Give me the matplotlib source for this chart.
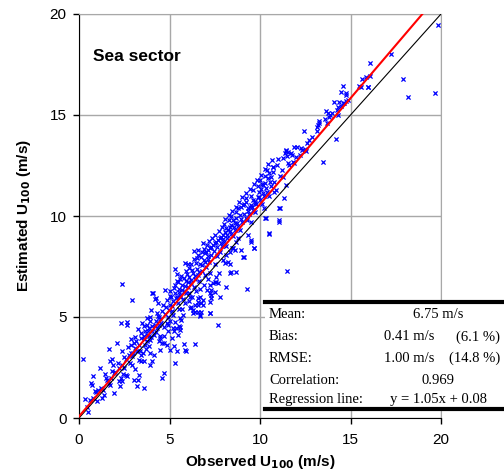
import matplotlib.pyplot as plt
from matplotlib.patches import Rectangle

# observed / estimated U100 (m/s), grouped by speed range
pts_0_2 = [(0.24, 2.94), (0.33, 0.94), (0.45, 0.55), (0.6, 0.9), (0.66, 1.72), (0.73, 1.65), (0.8, 1.0),
           (0.88, 1.35), (0.95, 1.29), (1.03, 1.4), (0.79, 2.09), (1.17, 2.48), (1.28, 0.99), (1.38, 1.15),
           (1.43, 2.18), (1.47, 1.98), (1.2, 1.5), (1.3, 1.4), (1.65, 1.73), (1.69, 1.65), (1.71, 2.84),
           (1.84, 2.31), (1.93, 2.23), (1.65, 3.4), (1.93, 1.24), (1.55, 1.9), (1.75, 2.0), (1.9, 2.6),
           (1.0, 0.85), (0.5, 0.3)]

pts_2_5 = [(2.11, 3.71), (2.3, 4.69), (2.2, 1.85), (2.24, 1.57), (2.39, 1.82), (2.57, 2.14), (2.66, 2.06),
           (2.75, 3.13), (2.85, 3.22), (2.94, 3.05), (2.48, 2.48), (2.39, 2.64), (2.66, 4.74), (2.66, 4.62),
           (3.03, 3.71), (3.12, 3.47), (3.21, 3.3), (3.31, 2.14), (3.21, 1.57), (3.03, 1.9), (3.27, 1.9),
           (3.58, 1.49), (3.31, 2.89), (3.4, 2.81), (3.58, 2.84), (3.4, 3.1), (3.54, 3.22), (3.4, 3.96),
           (3.58, 4.04), (3.76, 4.12), (3.67, 4.29), (3.86, 4.46), (3.76, 4.62), (3.58, 4.54), (3.49, 4.7),
           (3.95, 4.79), (4.23, 4.79), (4.41, 4.62), (4.31, 4.46), (4.04, 4.29), (4.13, 4.12), (3.95, 3.88),
           (3.76, 3.8), (3.86, 3.55), (4.13, 3.13), (4.04, 2.81), (3.95, 2.64), (4.41, 3.8), (4.59, 3.71),
           (4.5, 3.38), (4.68, 3.71), (4.87, 3.63), (5.05, 3.38), (4.59, 1.98), (4.68, 2.23), (4.68, 4.04),
           (4.5, 3.96), (4.87, 4.7), (5.05, 4.79), (2.39, 6.62), (2.94, 5.84), (4.09, 6.17), (4.28, 5.93),
           (4.06, 6.17), (4.19, 5.88), (4.0, 5.35), (2.6, 2.9), (2.8, 2.7), (3.0, 3.2), (2.2, 2.5),
           (2.5, 3.0), (2.9, 3.6), (3.1, 4.0), (3.3, 3.6), (3.6, 3.9), (3.8, 4.3), (4.2, 4.6), (4.4, 5.0),
           (4.6, 5.3), (4.8, 5.5), (4.3, 5.2), (3.9, 5.0), (4.5, 4.9), (4.9, 5.0), (4.7, 4.5), (2.0, 2.3),
           (2.3, 2.0), (3.7, 3.4), (4.0, 4.0), (4.9, 4.3)]

pts_5_8 = [(5.33, 2.72), (5.51, 4.54), (5.6, 4.37), (5.14, 3.96), (5.23, 3.55), (5.42, 3.3), (5.88, 3.35),
           (5.23, 4.29), (5.36, 4.46), (5.29, 7.36), (5.47, 4.11), (5.56, 4.94), (5.29, 4.77), (5.2, 4.44),
           (4.92, 4.6), (5.8, 3.65), (6.39, 3.66), (5.9, 3.33), (7.26, 5.18), (6.71, 5.05), (6.39, 5.26),
           (6.57, 5.26), (6.3, 5.18), (5.66, 4.85), (5.56, 4.52), (7.67, 4.6), (7.22, 5.18), (6.67, 5.1),
           (6.76, 5.26), (6.3, 5.35), (6.39, 5.59), (7.49, 6.25), (7.22, 6.17), (7.77, 6.0), (7.67, 6.67),
           (7.55, 6.75), (7.31, 5.93), (7.22, 5.76), (6.85, 5.84), (6.57, 5.76), (5.93, 6.17), (6.12, 6.0),
           (5.56, 6.0), (6.21, 5.51), (6.67, 6.0), (6.76, 5.68), (6.85, 5.59), (6.57, 5.59), (7.58, 7.0),
           (7.49, 6.75), (7.4, 6.67), (7.31, 6.34), (7.31, 6.09), (7.22, 6.58), (6.85, 8.65), (6.94, 8.15),
           (7.03, 8.23), (7.12, 8.32), (7.22, 8.4), (7.31, 8.48), (7.4, 8.56), (7.49, 8.65), (7.58, 8.73),
           (7.67, 8.81), (7.77, 8.9), (7.86, 8.98), (7.95, 9.06), (7.95, 7.82), (8.04, 7.66),
           (5.0, 5.6), (5.1, 6.0), (5.2, 5.8), (5.3, 6.2), (5.4, 6.0), (5.5, 6.4), (5.6, 6.1), (5.7, 6.6),
           (5.8, 6.3), (5.9, 6.8), (6.0, 6.5), (6.1, 7.0), (6.2, 6.7), (6.3, 7.2), (6.4, 6.9), (6.5, 7.4),
           (6.6, 7.1), (6.7, 7.6), (6.8, 7.3), (6.9, 7.8), (7.0, 7.5), (7.1, 8.0), (7.2, 7.7), (5.15, 5.3),
           (5.45, 5.7), (5.75, 5.9), (6.05, 6.2), (6.35, 6.5), (6.65, 6.8), (6.95, 7.1), (5.3, 6.6),
           (5.6, 6.9), (5.9, 7.3), (6.2, 7.6), (6.5, 7.9), (6.8, 8.2), (5.0, 6.3), (5.4, 6.8), (6.0, 7.6),
           (6.6, 8.3), (7.25, 7.2), (7.5, 7.6), (7.8, 8.2), (7.6, 8.0), (7.9, 8.5), (8.0, 8.7), (5.7, 5.4),
           (6.1, 5.8), (6.45, 6.3), (6.9, 6.6), (5.2, 5.1), (5.5, 5.4), (5.85, 5.7), (6.25, 6.0), (6.7, 6.4),
           (7.1, 6.9)]

pts_8_11 = [(8.87, 10.05), (8.69, 9.89), (8.5, 9.8), (8.6, 9.64), (8.41, 9.55), (8.32, 9.47), (8.23, 9.31),
            (8.14, 9.39), (8.04, 9.22), (9.7, 10.63), (9.51, 10.54), (9.42, 10.46), (9.33, 10.38),
            (9.05, 10.54), (8.96, 10.46), (9.24, 10.71), (9.6, 10.79), (10.95, 12.54), (10.74, 12.44),
            (10.52, 12.11), (10.62, 11.95), (10.43, 11.87), (10.3, 11.62), (10.19, 11.53), (10.1, 11.57),
            (10.06, 11.32), (9.93, 11.2), (9.88, 10.96), (11.07, 10.38), (11.04, 9.72), (11.07, 9.8),
            (10.29, 9.89), (10.48, 9.14), (9.66, 8.4), (9.51, 8.81), (9.33, 9.06), (9.05, 7.99), (8.69, 8.73),
            (8.5, 8.4), (8.32, 8.23), (8.14, 8.07), (11.44, 11.53), (11.26, 11.95), (11.53, 12.64),
            (11.81, 12.69), (11.31, 10.91), (11.09, 10.38), (10.32, 9.89), (10.49, 9.11), (11.5, 7.28),
            (9.68, 8.4), (9.51, 8.73), (9.11, 7.95), (9.26, 6.37), (8.69, 7.24), (8.32, 7.16), (8.41, 7.21),
            (8.14, 6.5), (8.23, 7.74), (8.6, 8.32), (8.47, 8.4), (8.2, 8.9), (8.4, 9.1), (8.6, 9.3),
            (8.8, 9.5), (9.0, 9.7), (9.2, 9.9), (9.4, 10.1), (9.6, 10.3), (9.8, 10.6), (10.0, 10.8),
            (10.2, 11.0), (10.4, 11.2), (10.6, 11.5), (10.8, 11.7), (8.3, 9.8), (8.7, 10.2), (9.1, 10.6),
            (9.5, 11.0), (9.9, 11.5), (10.3, 12.0), (8.5, 9.0), (8.9, 9.3), (9.3, 9.8), (9.7, 10.2),
            (10.1, 10.6), (10.5, 11.0), (10.9, 11.3), (8.0, 9.6), (8.4, 10.0), (8.8, 10.4), (9.2, 10.9),
            (9.6, 11.3), (10.0, 11.8), (10.4, 12.3), (10.7, 12.2), (8.1, 8.5), (8.8, 8.9), (9.5, 9.7),
            (10.2, 10.4), (10.8, 11.2)]

pts_11_14 = [(13.5, 12.69), (11.44, 13.27), (12.41, 14.21), (14.21, 13.8), (11.88, 13.43), (12.03, 13.43),
             (12.29, 13.38), (12.34, 13.27), (12.49, 13.3), (12.52, 13.23), (11.44, 13.23), (11.39, 13.1),
             (11.55, 13.18), (11.72, 13.13), (11.77, 13.02), (11.48, 12.97), (11.26, 12.86), (12.85, 13.93),
             (12.73, 13.76), (13.24, 14.72), (13.28, 14.59), (13.22, 14.49), (13.15, 14.42), (13.13, 14.21),
             (13.59, 14.8), (13.68, 14.59), (13.66, 15.2), (13.76, 15.08), (13.96, 15.11), (13.83, 14.92),
             (13.88, 14.98), (10.71, 12.41), (11.2, 12.3), (11.6, 12.5), (12.0, 12.9), (11.9, 12.6),
             (12.2, 13.0), (11.1, 12.0), (11.0, 12.8), (12.6, 13.6)]

pts_14_20 = [(19.82, 19.46), (17.26, 18.02), (17.92, 16.78), (18.2, 15.9), (19.65, 16.1), (16.1, 17.57),
             (16.1, 16.93), (15.63, 16.8), (15.83, 16.86), (15.47, 16.43), (15.6, 16.37), (15.98, 16.37),
             (14.58, 16.43), (14.5, 16.15), (14.73, 16.1), (14.75, 15.99), (14.84, 15.74), (14.75, 15.71),
             (14.62, 15.61), (14.56, 15.58), (14.1, 15.66), (14.36, 15.66), (14.29, 15.41), (14.27, 15.25),
             (14.47, 15.45), (14.31, 15.01), (15.94, 16.4)]

# the densest part of the cloud, 2-11 m/s
pts_band = [(2.15, 2.7), (2.45, 2.2), (2.7, 3.5), (2.95, 2.6), (3.15, 3.8), (3.35, 3.3), (3.45, 4.2),
            (3.65, 3.6), (3.85, 4.05), (4.05, 4.55), (4.25, 4.25), (4.35, 5.05), (4.55, 4.7), (4.65, 5.6),
            (4.75, 5.15), (4.85, 5.85), (4.95, 5.35), (5.05, 6.05), (5.12, 5.55), (5.25, 6.45), (5.35, 5.95),
            (5.48, 6.75), (5.52, 6.25), (5.63, 7.05), (5.68, 6.35), (5.78, 6.95), (5.83, 6.55), (5.95, 7.15),
            (6.03, 6.75), (6.08, 7.45), (6.17, 6.85), (6.27, 7.35), (6.33, 7.85), (6.42, 7.05), (6.48, 7.65),
            (6.55, 8.05), (6.62, 7.25), (6.73, 7.95), (6.78, 7.55), (6.88, 8.35), (6.97, 7.7), (7.05, 8.55),
            (7.15, 7.85), (7.18, 8.75), (7.28, 8.05), (7.35, 8.9), (7.45, 8.25), (7.53, 9.05), (7.62, 8.45),
            (7.72, 9.25), (7.82, 8.65), (7.88, 9.45), (7.97, 8.85), (8.07, 9.85), (8.17, 9.05), (8.27, 10.05),
            (8.36, 9.25), (8.45, 10.25), (8.55, 9.45), (8.65, 10.45), (8.75, 9.65), (8.85, 10.7), (8.93, 9.85),
            (9.03, 10.95), (9.13, 10.1), (9.22, 11.15), (9.35, 10.25), (9.45, 11.35), (9.55, 10.45),
            (9.65, 11.6), (9.75, 10.75), (9.85, 11.8), (9.95, 10.95), (10.05, 12.05), (10.15, 11.15),
            (10.25, 12.35), (10.35, 11.4), (10.45, 12.55), (10.55, 11.7), (10.65, 12.75), (3.1, 2.45),
            (3.9, 3.2), (4.45, 4.05), (5.75, 5.1), (6.15, 5.45), (6.6, 5.95), (7.05, 6.35), (7.75, 7.2),
            (8.35, 7.6), (8.95, 8.3), (5.4, 7.15), (5.85, 7.65), (6.35, 8.25), (4.75, 6.35), (4.35, 5.7),
            (3.75, 4.95), (3.25, 4.4), (2.85, 3.9), (2.35, 3.3), (1.85, 2.9)]

# regression line y = a*x + b and summary table
reg_slope = 1.05
reg_icpt = 0.08
table_labels = ['Mean:', 'Bias:', 'RMSE:', 'Correlation:', 'Regression line:']
table_values = ['6.75 m/s', '0.41 m/s', '1.00 m/s', '0.969', 'y = 1.05x + 0.08']
table_pct = ['', '(6.1 %)', '(14.8 %)', '', '']

groups = [pts_0_2, pts_2_5, pts_5_8, pts_8_11, pts_11_14, pts_14_20, pts_band]
obs = [p[0] for g in groups for p in g]
est = [p[1] for g in groups for p in g]

W, H = 504, 474
fig = plt.figure(figsize=(W / 100, H / 100), dpi=100)
ax = fig.add_axes([79 / W, 1 - 418 / H, 362 / W, 404 / H])

ax.scatter(obs, est, marker='x', s=9, linewidths=0.9, color='#0000ff', zorder=3)
xr = [0, 20]
ax.plot(xr, xr, color='black', lw=0.8, zorder=4)
ax.plot(xr, [reg_slope * v + reg_icpt for v in xr], color='#ff0000', lw=1.5, zorder=5)

ax.set_xlim(0, 20)
ax.set_ylim(0, 20)
ax.set_xticks([0, 5, 10, 15, 20])
ax.set_yticks([0, 5, 10, 15, 20])
ax.grid(True, color='#a8a8a8', lw=1)
ax.set_axisbelow(True)
for s in ['top', 'right']:
    ax.spines[s].set_color('#a8a8a8')
for s in ['left', 'bottom']:
    ax.spines[s].set_color('black')
ax.tick_params(direction='out', length=4, width=1, labelsize=11)
ax.tick_params(axis='x', pad=7)
ax.tick_params(axis='y', pad=5)
for lab in ax.get_xticklabels() + ax.get_yticklabels():
    lab.set_family('Liberation Sans')

ax.set_xlabel('Observed U$_{\\mathbf{100}}$ (m/s)', fontsize=11, fontweight='bold', family='Liberation Sans', labelpad=4)
ax.set_ylabel('Estimated U$_{\\mathbf{100}}$ (m/s)', fontsize=11, fontweight='bold', family='Liberation Sans', labelpad=12)
ax.text(0.75, 17.9, 'Sea sector', fontsize=12.5, fontweight='bold', family='Liberation Sans', va='center')

# statistics box drawn in figure pixels
def fx(px):
    return px / W

def fy(py):
    return 1 - py / H

fig.patches.append(Rectangle((fx(265), fy(410)), fx(504) - fx(265), fy(300) - fy(410),
                             transform=fig.transFigure, facecolor='white', edgecolor='none', zorder=10))
for yy in [301.5, 409]:
    fig.lines.append(plt.Line2D([fx(265), fx(504)], [fy(yy), fy(yy)], transform=fig.transFigure,
                                color='black', lw=3, zorder=11))
rows_y = [315, 337, 358, 380, 400]
for i in range(5):
    fig.text(fx(269), fy(rows_y[i]), table_labels[i], family='Liberation Serif', fontsize=10.5,
             va='center', ha='left', zorder=12)
    if table_pct[i]:
        fig.text(fx(434), fy(rows_y[i]), table_values[i], family='Liberation Serif', fontsize=10.5,
                 va='center', ha='right', zorder=12)
        fig.text(fx(500), fy(rows_y[i]), table_pct[i], family='Liberation Serif', fontsize=10.5,
                 va='center', ha='right', zorder=12)
    else:
        fig.text(fx(438), fy(rows_y[i]), table_values[i], family='Liberation Serif', fontsize=10.5,
                 va='center', ha='center', zorder=12)

fig.savefig('out.png', dpi=100)
